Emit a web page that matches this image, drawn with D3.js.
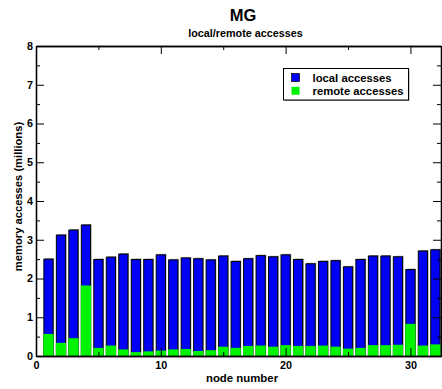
<!DOCTYPE html>
<html>
<head>
<meta charset="utf-8">
<script src="https://cdn.jsdelivr.net/npm/d3@7"></script>
<style>
  body { margin: 0; background: #fff; }
  svg { display: block; font-family: "Liberation Sans", Arial, sans-serif; font-weight: bold; }
</style>
</head>
<body>
<div id="chart"></div>
<script>
// values in millions
const nodes = d3.range(1, 33)
const totalAccesses = [2.50, 3.12, 3.25, 3.38, 2.49, 2.55, 2.63, 2.49, 2.49, 2.61, 2.48, 2.53, 2.51, 2.48, 2.58, 2.44,
  2.51, 2.59, 2.56, 2.61, 2.49, 2.38, 2.44, 2.46, 2.30, 2.49, 2.58, 2.58, 2.56, 2.23, 2.71, 2.74]
const remoteAccesses = [0.57, 0.34, 0.46, 1.82, 0.21, 0.27, 0.17, 0.10, 0.12, 0.14, 0.17, 0.18, 0.13, 0.15, 0.24, 0.21,
  0.26, 0.27, 0.24, 0.28, 0.26, 0.26, 0.27, 0.24, 0.19, 0.21, 0.28, 0.28, 0.29, 0.83, 0.27, 0.30]
const xMajor = [0, 10, 20, 30]
const xMinor = [5, 15, 25]
const yMajor = d3.range(0, 9)
const yMinor = d3.range(0.5, 8, 1)
const legendItems = [
  { label: 'local accesses', color: '#0000f4' },
  { label: 'remote accesses', color: '#00f400' }
]

const width = 442
const height = 389
const margin = { top: 46, right: 1, bottom: 33, left: 36 }
const barWidth = 0.74

const svg = d3.select('#chart').append('svg')
  .attr('width', width)
  .attr('height', height)

const x = d3.scaleLinear().domain([0, 32.45]).range([margin.left, width - margin.right])
const y = d3.scaleLinear().domain([0, 8]).range([height - margin.bottom, margin.top])

const data = nodes.map((n, i) => ({ node: n, total: totalAccesses[i], remote: remoteAccesses[i] }))

// bars: gray shadow, blue local part (with outline), green remote part
const bars = svg.append('g')
const bw = x(barWidth) - x(0)
bars.selectAll('rect.shadow').data(data).join('rect')
  .attr('class', 'shadow')
  .attr('x', d => x(d.node) - bw / 2 + 1)
  .attr('y', d => y(d.total) - 1)
  .attr('width', bw)
  .attr('height', d => y(0) - y(d.total))
  .attr('fill', '#9a9a9a')
bars.selectAll('rect.local').data(data).join('rect')
  .attr('class', 'local')
  .attr('x', d => x(d.node) - bw / 2)
  .attr('y', d => y(d.total))
  .attr('width', bw)
  .attr('height', d => y(0) - y(d.total))
  .attr('fill', legendItems[0].color)
  .attr('stroke', '#000')
  .attr('stroke-width', 1)
bars.selectAll('rect.remote').data(data).join('rect')
  .attr('class', 'remote')
  .attr('x', d => x(d.node) - bw / 2 - 0.5)
  .attr('y', d => y(d.remote))
  .attr('width', bw + 1)
  .attr('height', d => y(0) - y(d.remote))
  .attr('fill', legendItems[1].color)

// frame with inward ticks
const axisStyle = g => {
  g.selectAll('.domain').attr('stroke', '#000').attr('stroke-width', 1.3)
  g.selectAll('line').attr('stroke', '#000').attr('stroke-width', 1)
  g.selectAll('text').attr('font-size', 10.8).attr('font-weight', 'bold').attr('fill', '#000')
  g.attr('font-family', null)
}
const major = 8
const minor = 4

svg.append('g').attr('transform', `translate(0,${y(0)})`)
  .call(d3.axisBottom(x).tickValues(xMinor).tickSize(-minor).tickSizeOuter(0).tickFormat(''))
  .call(axisStyle)
svg.append('g').attr('transform', `translate(0,${y(0)})`)
  .call(d3.axisBottom(x).tickValues(xMajor).tickSize(-major).tickSizeOuter(0).tickPadding(5).tickFormat(d3.format('d')))
  .call(axisStyle)
svg.append('g').attr('transform', `translate(0,${y(8)})`)
  .call(d3.axisTop(x).tickValues(xMinor).tickSize(-minor).tickSizeOuter(0).tickFormat(''))
  .call(axisStyle)
svg.append('g').attr('transform', `translate(0,${y(8)})`)
  .call(d3.axisTop(x).tickValues(xMajor).tickSize(-major).tickSizeOuter(0).tickFormat(''))
  .call(axisStyle)

svg.append('g').attr('transform', `translate(${x(0)},0)`)
  .call(d3.axisLeft(y).tickValues(yMinor).tickSize(-minor).tickSizeOuter(0).tickFormat(''))
  .call(axisStyle)
svg.append('g').attr('transform', `translate(${x(0)},0)`)
  .call(d3.axisLeft(y).tickValues(yMajor).tickSize(-major).tickSizeOuter(0).tickPadding(3).tickFormat(d3.format('d')))
  .call(axisStyle)
svg.append('g').attr('transform', `translate(${width - margin.right},0)`)
  .call(d3.axisRight(y).tickValues(yMinor).tickSize(-minor).tickSizeOuter(0).tickFormat(''))
  .call(axisStyle)
svg.append('g').attr('transform', `translate(${width - margin.right},0)`)
  .call(d3.axisRight(y).tickValues(yMajor).tickSize(-major).tickSizeOuter(0).tickFormat(''))
  .call(axisStyle)

// titles
svg.append('text')
  .attr('x', 243).attr('y', 21)
  .attr('text-anchor', 'middle')
  .attr('font-size', 16.5)
  .text('MG')
svg.append('text')
  .attr('x', 245.5).attr('y', 36.5)
  .attr('text-anchor', 'middle')
  .attr('font-size', 10.8)
  .text('local/remote accesses')
svg.append('text')
  .attr('x', 242).attr('y', 382)
  .attr('text-anchor', 'middle')
  .attr('font-size', 11.4)
  .text('node number')
svg.append('text')
  .attr('transform', 'translate(21.5,196.5) rotate(-90)')
  .attr('text-anchor', 'middle')
  .attr('font-size', 11.2)
  .text('memory accesses (millions)')

// legend
const legend = svg.append('g').attr('transform', 'translate(283.5,68.5)')
legend.append('rect')
  .attr('x', 1).attr('y', 1)
  .attr('width', 125).attr('height', 31.5)
  .attr('fill', '#9a9a9a')
legend.append('rect')
  .attr('width', 125).attr('height', 31.5)
  .attr('fill', '#fff')
  .attr('stroke', '#000')
  .attr('stroke-width', 1)
const items = legend.selectAll('g.item').data(legendItems).join('g')
  .attr('class', 'item')
  .attr('transform', (d, i) => `translate(8,${5 + i * 13.3})`)
items.append('rect')
  .attr('width', 8).attr('height', 8)
  .attr('fill', d => d.color)
  .attr('stroke', (d, i) => i === 0 ? '#000' : 'none')
  .attr('stroke-width', 0.7)
items.append('text')
  .attr('x', 21).attr('y', 8.5)
  .attr('font-size', 11.3)
  .text(d => d.label)
</script>
</body>
</html>
